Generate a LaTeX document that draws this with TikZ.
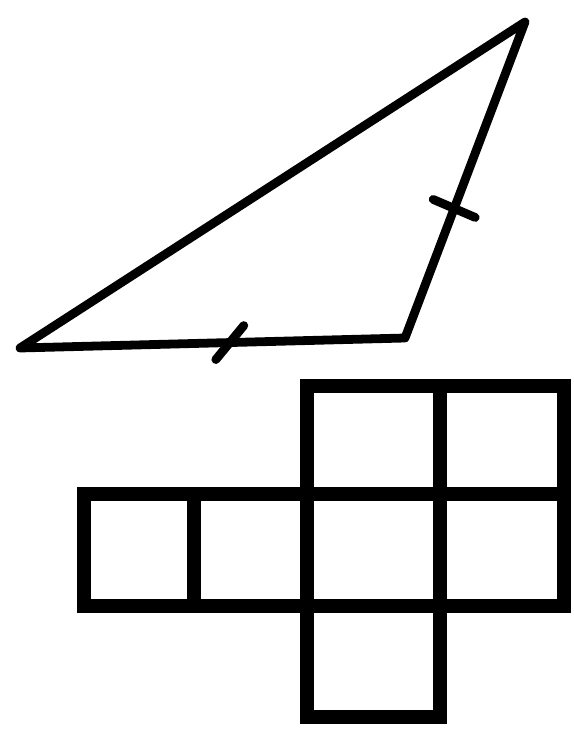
\documentclass[tikz,border=0pt]{standalone}
\usetikzlibrary{calc}
\begin{document}
\begin{tikzpicture}[x=0.02cm, y=-0.02cm]
\tikzset{side/.style={draw, line width=5pt, line join=round}, tick/.style={draw, line width=5pt, line cap=round}, cell/.style={draw, line width=8pt}}
\useasboundingbox (0,0) rectangle (574,737);
% triangle
\coordinate (A) at (20,348); \coordinate (B) at (405,338); \coordinate (C) at (525,22);
\draw[side] (A) -- (B) -- (C) -- cycle;
\coordinate (T1) at ($(A)!0.545!(B)$); \coordinate (T2) at ($(B)!0.41!(C)$);
\draw[tick] ($(T1)+(-14,17)$) -- ($(T1)+(14,-17)$);
\draw[tick] ($(T2)+(-21,-9)$) -- ($(T2)+(21,9)$);
% net of squares
\foreach \xa/\ya/\xb/\yb in {307/386/440/494, 440/386/564/494, 84/494/194/606, 194/494/307/606, 307/494/440/606, 440/494/564/606, 307/606/440/717}
  \draw[cell] (\xa,\ya) rectangle (\xb,\yb);
\end{tikzpicture}
\end{document}
